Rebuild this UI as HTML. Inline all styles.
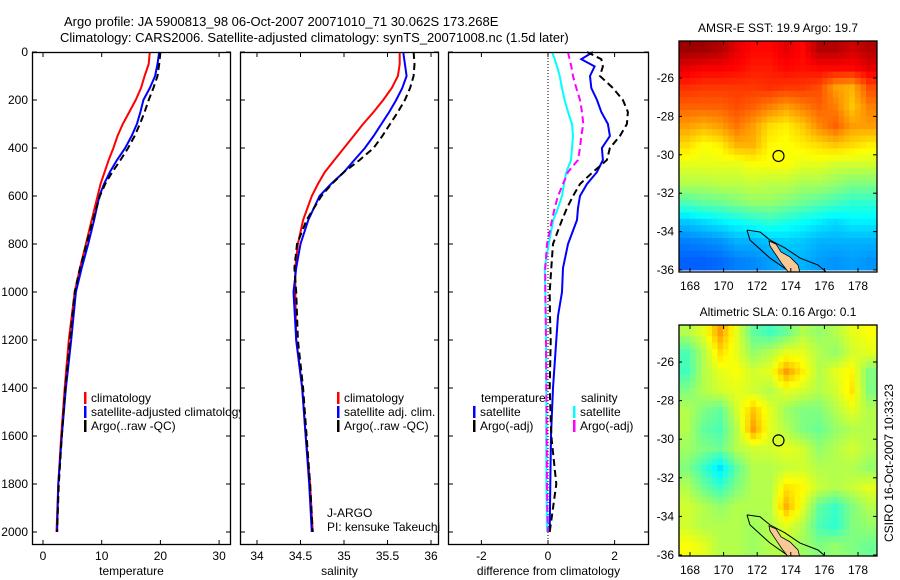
<!DOCTYPE html>
<html><head><meta charset="utf-8">
<style>
html,body{margin:0;padding:0;background:#fff;}
svg{display:block;font-family:"Liberation Sans",sans-serif;}
text{font-size:12px;fill:#000;}
</style></head>
<body>
<svg id="fig" width="900" height="580" viewBox="0 0 900 580" xmlns="http://www.w3.org/2000/svg">
<rect width="900" height="580" fill="#fff"/>
<text x="64" y="26" style="font-size:13px">Argo profile: JA 5900813_98 06-Oct-2007 20071010_71 30.062S 173.268E</text>
<text x="60" y="42" style="font-size:13px">Climatology: CARS2006. Satellite-adjusted climatology: synTS_20071008.nc (1.5d later)</text>
<g id="g"></g>
</svg>
<script>
// ---- data ----
const depths = [0,50,100,150,200,250,300,350,400,450,500,550,600,700,800,900,1000,1200,1400,1600,1800,2000];
const tempClim = [18.2,18.0,17.3,16.7,15.8,14.7,13.6,12.7,12.0,11.2,10.5,9.8,9.3,8.3,7.3,6.3,5.4,4.4,3.7,3.1,2.6,2.3];
const tempSat  = [19.8,19.5,19.1,18.2,17.1,16.6,16.0,15.1,14.0,12.6,11.4,10.4,9.6,8.7,7.7,6.6,5.6,4.8,3.9,3.2,2.6,2.4];
const tempArgo = [20.0,19.8,19.5,18.8,18.0,17.3,16.5,15.6,14.5,13.2,11.8,10.6,9.7,8.5,7.4,6.3,5.4,4.6,3.8,3.2,2.7,2.4];
const salClim = [35.64,35.64,35.62,35.55,35.45,35.34,35.22,35.11,35.0,34.89,34.78,34.70,34.63,34.53,34.47,34.44,34.44,34.45,34.52,34.56,34.61,34.64];
const salSat  = [35.68,35.70,35.72,35.67,35.60,35.52,35.43,35.34,35.24,35.12,35.0,34.85,34.72,34.59,34.50,34.45,34.42,34.45,34.52,34.56,34.60,34.63];
const salArgo = [35.80,35.81,35.80,35.76,35.70,35.62,35.53,35.44,35.34,35.18,35.0,34.86,34.74,34.57,34.46,34.43,34.45,34.47,34.53,34.57,34.61,34.64];
const diffDepths = [0,30,60,100,150,200,250,300,350,400,450,500,550,600,650,700,800,900,1000,1100,1200,1400,1600,1800,1900,2000];
const diffTSat  = [1.35,1.0,1.4,1.26,1.3,1.47,1.6,1.8,1.86,1.62,1.65,1.47,1.17,0.96,0.9,0.87,0.6,0.45,0.42,0.3,0.25,0.15,0.09,0.07,0.06,0.05];
const diffTArgo = [1.17,1.6,1.65,1.56,1.95,2.25,2.4,2.37,2.16,1.86,1.77,1.35,0.96,0.75,0.57,0.42,0.15,0.1,0.05,0.06,0.08,0.05,0.1,0.25,0.15,0.05];
const diffSSat  = [0.12,0.2,0.27,0.35,0.42,0.5,0.6,0.72,0.75,0.72,0.69,0.55,0.48,0.42,0.3,0.16,0.02,-0.1,-0.08,-0.07,-0.06,-0.05,-0.05,-0.05,-0.04,-0.03];
const diffSArgo = [0.6,0.65,0.7,0.75,0.85,0.96,1.02,1.06,1.0,0.96,0.9,0.6,0.45,0.3,0.2,0.12,-0.03,-0.08,-0.08,-0.07,-0.06,-0.05,-0.04,-0.03,-0.02,0.0];
const depthTicks = [0,200,400,600,800,1000,1200,1400,1600,1800,2000];
const tempTicks = [0,10,20,30];
const salTicks = [34,34.5,35,35.5,36];
const salTickLabels = ["34","34.5","35","35.5","36"];
const diffTicks = [-2,0,2];
const mapLons = [167.84,168.82,169.8,170.78,171.76,172.75,173.73,174.71,175.69,176.67,177.65,178.64];
const mapLats = [-24.5,-25.5,-26.5,-27.5,-28.5,-29.5,-30.5,-31.5,-32.5,-33.5,-34.5,-35.5];
const lonTicks = [168,170,172,174,176,178];
const latTicks = [-26,-28,-30,-32,-34,-36];
const sstGrid = [
[0.97,0.97,0.95,0.9,0.87,0.87,0.9,0.87,0.95,0.95,0.92,0.95],
[0.9,0.88,0.88,0.87,0.85,0.85,0.87,0.86,0.87,0.87,0.87,0.9],
[0.83,0.82,0.82,0.82,0.82,0.83,0.82,0.82,0.8,0.72,0.7,0.8],
[0.78,0.78,0.78,0.8,0.78,0.75,0.72,0.75,0.78,0.75,0.68,0.75],
[0.72,0.7,0.72,0.76,0.72,0.66,0.64,0.68,0.74,0.78,0.72,0.72],
[0.66,0.62,0.64,0.7,0.7,0.63,0.62,0.64,0.66,0.68,0.66,0.64],
[0.6,0.6,0.6,0.6,0.62,0.62,0.62,0.6,0.6,0.58,0.58,0.58],
[0.55,0.55,0.56,0.56,0.57,0.56,0.56,0.54,0.54,0.52,0.5,0.5],
[0.45,0.47,0.48,0.5,0.52,0.52,0.5,0.48,0.46,0.44,0.42,0.42],
[0.32,0.34,0.36,0.38,0.4,0.42,0.4,0.38,0.36,0.34,0.36,0.36],
[0.25,0.26,0.27,0.3,0.3,0.32,0.33,0.32,0.3,0.3,0.3,0.3],
[0.22,0.22,0.23,0.25,0.26,0.28,0.3,0.3,0.28,0.27,0.28,0.27]];
const slaGrid = [
[0.55,0.6,0.72,0.6,0.47,0.44,0.48,0.55,0.52,0.55,0.6,0.62],
[0.45,0.55,0.66,0.6,0.52,0.55,0.6,0.6,0.55,0.52,0.58,0.6],
[0.44,0.55,0.6,0.62,0.58,0.6,0.72,0.64,0.55,0.6,0.63,0.5],
[0.5,0.55,0.58,0.6,0.58,0.55,0.6,0.58,0.55,0.58,0.65,0.5],
[0.55,0.5,0.47,0.58,0.68,0.6,0.53,0.5,0.5,0.55,0.6,0.55],
[0.55,0.47,0.45,0.55,0.72,0.6,0.55,0.5,0.48,0.52,0.55,0.55],
[0.53,0.5,0.48,0.55,0.58,0.58,0.6,0.58,0.52,0.55,0.58,0.55],
[0.5,0.43,0.35,0.47,0.55,0.55,0.57,0.58,0.55,0.55,0.55,0.52],
[0.55,0.48,0.43,0.5,0.55,0.55,0.65,0.63,0.57,0.55,0.57,0.6],
[0.58,0.55,0.52,0.55,0.55,0.55,0.7,0.6,0.47,0.43,0.5,0.55],
[0.58,0.55,0.55,0.55,0.53,0.55,0.6,0.55,0.45,0.42,0.5,0.52],
[0.62,0.6,0.55,0.55,0.53,0.55,0.55,0.53,0.5,0.52,0.5,0.48]];
const landLon = [172.70,173.12,173.42,173.95,174.43,174.55,173.9,173.48,173.12,172.76];
const landLat = [-34.49,-34.65,-35.06,-35.32,-35.74,-36.16,-36.16,-35.69,-35.22,-34.75];
const contLon = [171.39,172.17,172.76,173.65,174.55,175.62,176.1,173.95,172.76,171.57,171.39];
const contLat = [-33.92,-34.02,-34.44,-34.85,-35.38,-35.74,-36.1,-36.1,-35.38,-34.44,-33.92];
const floatLon = 173.268, floatLat = -30.062;

// ---- helpers ----
const NS = "http://www.w3.org/2000/svg";
const G = document.getElementById('g');
function mk(tag, attrs, parent){ const e=document.createElementNS(NS,tag); for(const k in attrs) e.setAttribute(k,attrs[k]); (parent||G).appendChild(e); return e; }
function txt(s,x,y,anchor,parent,size){ const t=mk('text',{x:x,y:y,'text-anchor':anchor||'start'},parent); if(size) t.style.fontSize=size+'px'; t.textContent=s; return t; }
const yD = d => 52 + d*0.24;
const xT = v => 43 + v*5.87;
const xS = v => 257 + (v-34)*87;
const xDf = v => 548 + v*33.3;
const lonX1 = l => 690 + (l-168)*16.8;
const latY1 = l => 78 + (-26-l)*19.2;
const lonX2 = l => 690 + (l-168)*16.8;
const latY2 = l => 362 + (-26-l)*19.3;
function jet(v){
  const c=x=>Math.max(0,Math.min(1,x));
  const r=c(1.5-Math.abs(4*v-3)), g=c(1.5-Math.abs(4*v-2)), b=c(1.5-Math.abs(4*v-1));
  return `rgb(${Math.round(r*255)},${Math.round(g*255)},${Math.round(b*255)})`;
}
function stepPath(xs, ds, xf){
  let p='';
  for(let i=0;i<ds.length;i++){ p += (i?'L':'M')+xf(xs[i]).toFixed(1)+','+yD(ds[i]).toFixed(1); }
  return p;
}
function panel(name){
  const g = mk('g',{});
  
  
  return g;
}
function bg(g,x0,x1){ mk('rect',{x:x0,y:52,width:x1-x0,height:493,fill:'#fff',stroke:'none'},g); }
function frame(g, x0, x1, xf, ticks, labels, xlabel, showY){
  mk('rect',{x:x0+0.5,y:52.5,width:x1-x0-1,height:492,fill:'none',stroke:'#000','stroke-width':1.3},g);
  ticks.forEach((t,i)=>{
    const x=xf(t);
    mk('line',{x1:x,y1:545,x2:x,y2:540,stroke:'#000'},g);
    mk('line',{x1:x,y1:52,x2:x,y2:57,stroke:'#000'},g);
    const l=txt(labels[i],x,560,'middle',g);
    
    
  });
  depthTicks.forEach(d=>{
    const y=yD(d);
    mk('line',{x1:x0,y1:y,x2:x0+5,y2:y,stroke:'#000'},g);
    mk('line',{x1:x1-5,y1:y,x2:x1,y2:y,stroke:'#000'},g);
    if(showY){ const l=txt(String(d),28,y+4,'end',g);   }
  });
  const xl=txt(xlabel,(x0+x1)/2,575,'middle',g);
  
  
}
function line(g, xs, ds, xf, color, dashed, name){
  const p=mk('path',{d:stepPath(xs,ds,xf),fill:'none',stroke:color,'stroke-width':2,'stroke-dasharray':dashed?'7,4':'none'},g);
  
  
}
function legendEntry(g,x,y,color,label,name){
  const e=mk('g',{},g);
  
  
  mk('rect',{x:x,y:y-10,width:2.5,height:12,fill:color},e);
  txt(label,x+7,y,'start',e);
}

// Panel 1: temperature
const p1 = panel('temperature-panel');
bg(p1,32,231);
line(p1,tempClim,depths,xT,'#f00',false,'temp-climatology-line');
line(p1,tempSat,depths,xT,'#00f',false,'temp-satellite-line');
line(p1,tempArgo,depths,xT,'#000',true,'temp-argo-line');
legendEntry(p1,84,402,'#f00','climatology','legend-climatology');
legendEntry(p1,84,416,'#00f','satellite-adjusted climatology','legend-satellite-adjusted');
legendEntry(p1,84,430,'#000','Argo(..raw -QC)','legend-argo');
frame(p1,32,231,xT,tempTicks,["0","10","20","30"],'temperature',true);

// Panel 2: salinity
const p2 = panel('salinity-panel');
bg(p2,240,439);
line(p2,salClim,depths,xS,'#f00',false,'sal-climatology-line');
line(p2,salSat,depths,xS,'#00f',false,'sal-satellite-line');
line(p2,salArgo,depths,xS,'#000',true,'sal-argo-line');
legendEntry(p2,337,402,'#f00','climatology','legend-climatology');
legendEntry(p2,337,416,'#00f','satellite adj. clim.','legend-satellite-adj');
legendEntry(p2,337,430,'#000','Argo(..raw -QC)','legend-argo');
const ja=txt('J-ARGO',327,517,'start',p2);  
const pi=txt('PI: kensuke Takeuchi',327,531,'start',p2);  
frame(p2,240,439,xS,salTicks,salTickLabels,'salinity',false);

// Panel 3: differences
const p3 = panel('difference-panel');
bg(p3,448,649);
mk('line',{x1:xDf(0),y1:52,x2:xDf(0),y2:545,stroke:'#000','stroke-dasharray':'1,2'},p3);
line(p3,diffTSat,diffDepths,xDf,'#00f',false,'diff-temp-satellite-line');
line(p3,diffTArgo,diffDepths,xDf,'#000',true,'diff-temp-argo-line');
line(p3,diffSSat,diffDepths,xDf,'#0ff',false,'diff-sal-satellite-line');
line(p3,diffSArgo,diffDepths,xDf,'#f0f',true,'diff-sal-argo-line');
const lt=txt('temperature',481,402,'start',p3);  
legendEntry(p3,473,416,'#00f','satellite','legend-temp-satellite');
legendEntry(p3,473,430,'#000','Argo(-adj)','legend-temp-argo');
const ls=txt('salinity',581,402,'start',p3);  
legendEntry(p3,573,416,'#0ff','satellite','legend-sal-satellite');
legendEntry(p3,573,430,'#f0f','Argo(-adj)','legend-sal-argo');
frame(p3,448,649,xDf,diffTicks,["-2","0","2"],'difference from climatology',false);

// Maps (bilinear-sampled display of the grids)
function sample(grid, fr, fc){
  const n=grid.length, m=grid[0].length;
  fr=Math.max(0,Math.min(n-1,fr)); fc=Math.max(0,Math.min(m-1,fc));
  const r0=Math.floor(fr), c0=Math.floor(fc), r1=Math.min(n-1,r0+1), c1=Math.min(m-1,c0+1);
  const a=fr-r0, b=fc-c0;
  return grid[r0][c0]*(1-a)*(1-b)+grid[r0][c1]*(1-a)*b+grid[r1][c0]*a*(1-b)+grid[r1][c1]*a*b;
}
function map(name, grid, top, bottom, lonX, latY, title, titleY){
  const g=mk('g',{});
  
  
  const x0=679,x1=877;
  const cp=mk('clipPath',{id:name+'-clip'},g);
  mk('rect',{x:x0,y:top,width:x1-x0,height:bottom-top},cp);
  const cells=mk('g',{'clip-path':`url(#${name}-clip)`},g);
  const dLon=mapLons[1]-mapLons[0];
  const sub=3;
  for(let r=0;r<grid.length;r++) for(let c=0;c<grid[0].length;c++){
    for(let i=0;i<sub;i++) for(let j=0;j<sub;j++){
      const fr=r+(i+0.5)/sub-0.5, fc=c+(j+0.5)/sub-0.5;
      const v=sample(grid,fr,fc);
      const la=mapLats[r]+0.5-i/sub, lb=la-1/sub;
      const lo=mapLons[c]-dLon/2+j*dLon/sub, lo2=lo+dLon/sub;
      const xa=lonX(lo), xb=lonX(lo2), ya=latY(la), yb=latY(lb);
      const cell=mk('rect',{x:xa,y:ya,width:xb-xa+0.5,height:yb-ya+0.5,fill:jet(v)},cells);
      
      
    }
  }
  let cp1=''; contLon.forEach((l,i)=>{cp1+=(i?'L':'M')+lonX(l)+','+latY(contLat[i]);});
  const cont=mk('path',{d:cp1,fill:'none',stroke:'#000','stroke-width':1},cells);
  
  
  let lp=''; landLon.forEach((l,i)=>{lp+=(i?'L':'M')+lonX(l)+','+latY(landLat[i]);}); lp+='Z';
  const land=mk('path',{d:lp,fill:'#f8c896',stroke:'#000','stroke-width':0.8},cells);
  
  
  const fl=mk('circle',{cx:lonX(floatLon),cy:latY(floatLat),r:5.5,fill:'none',stroke:'#000','stroke-width':1.2},g);
  
  
  mk('rect',{x:x0,y:top,width:x1-x0,height:bottom-top,fill:'none',stroke:'#000','stroke-width':1.3},g);
  lonTicks.forEach(l=>{
    const x=lonX(l);
    mk('line',{x1:x,y1:top,x2:x,y2:top+4,stroke:'#000'},g);
    mk('line',{x1:x,y1:bottom,x2:x,y2:bottom-4,stroke:'#000'},g);
    const t=txt(String(l),x,bottom+18,'middle',g);
     
  });
  latTicks.forEach(l=>{
    const y=latY(l);
    mk('line',{x1:x1-4,y1:y,x2:x1,y2:y,stroke:'#000'},g);
    mk('line',{x1:x0,y1:y,x2:x0+3,y2:y,stroke:'#000'},g);
    const t=txt(String(l),674,y+4,'end',g);
     
  });
  const tt=txt(title,778,titleY,'middle',g);
   
}
map('sst-map',sstGrid,41,272,lonX1,latY1,'AMSR-E SST: 19.9 Argo: 19.7',32);
map('sla-map',slaGrid,325,556,lonX2,latY2,'Altimetric SLA: 0.16 Argo: 0.1',316);
const cs=txt('CSIRO 16-Oct-2007 10:33:23',0,0,'middle');
cs.setAttribute('transform','translate(893,463) rotate(-90)');


</script>
</body></html>
